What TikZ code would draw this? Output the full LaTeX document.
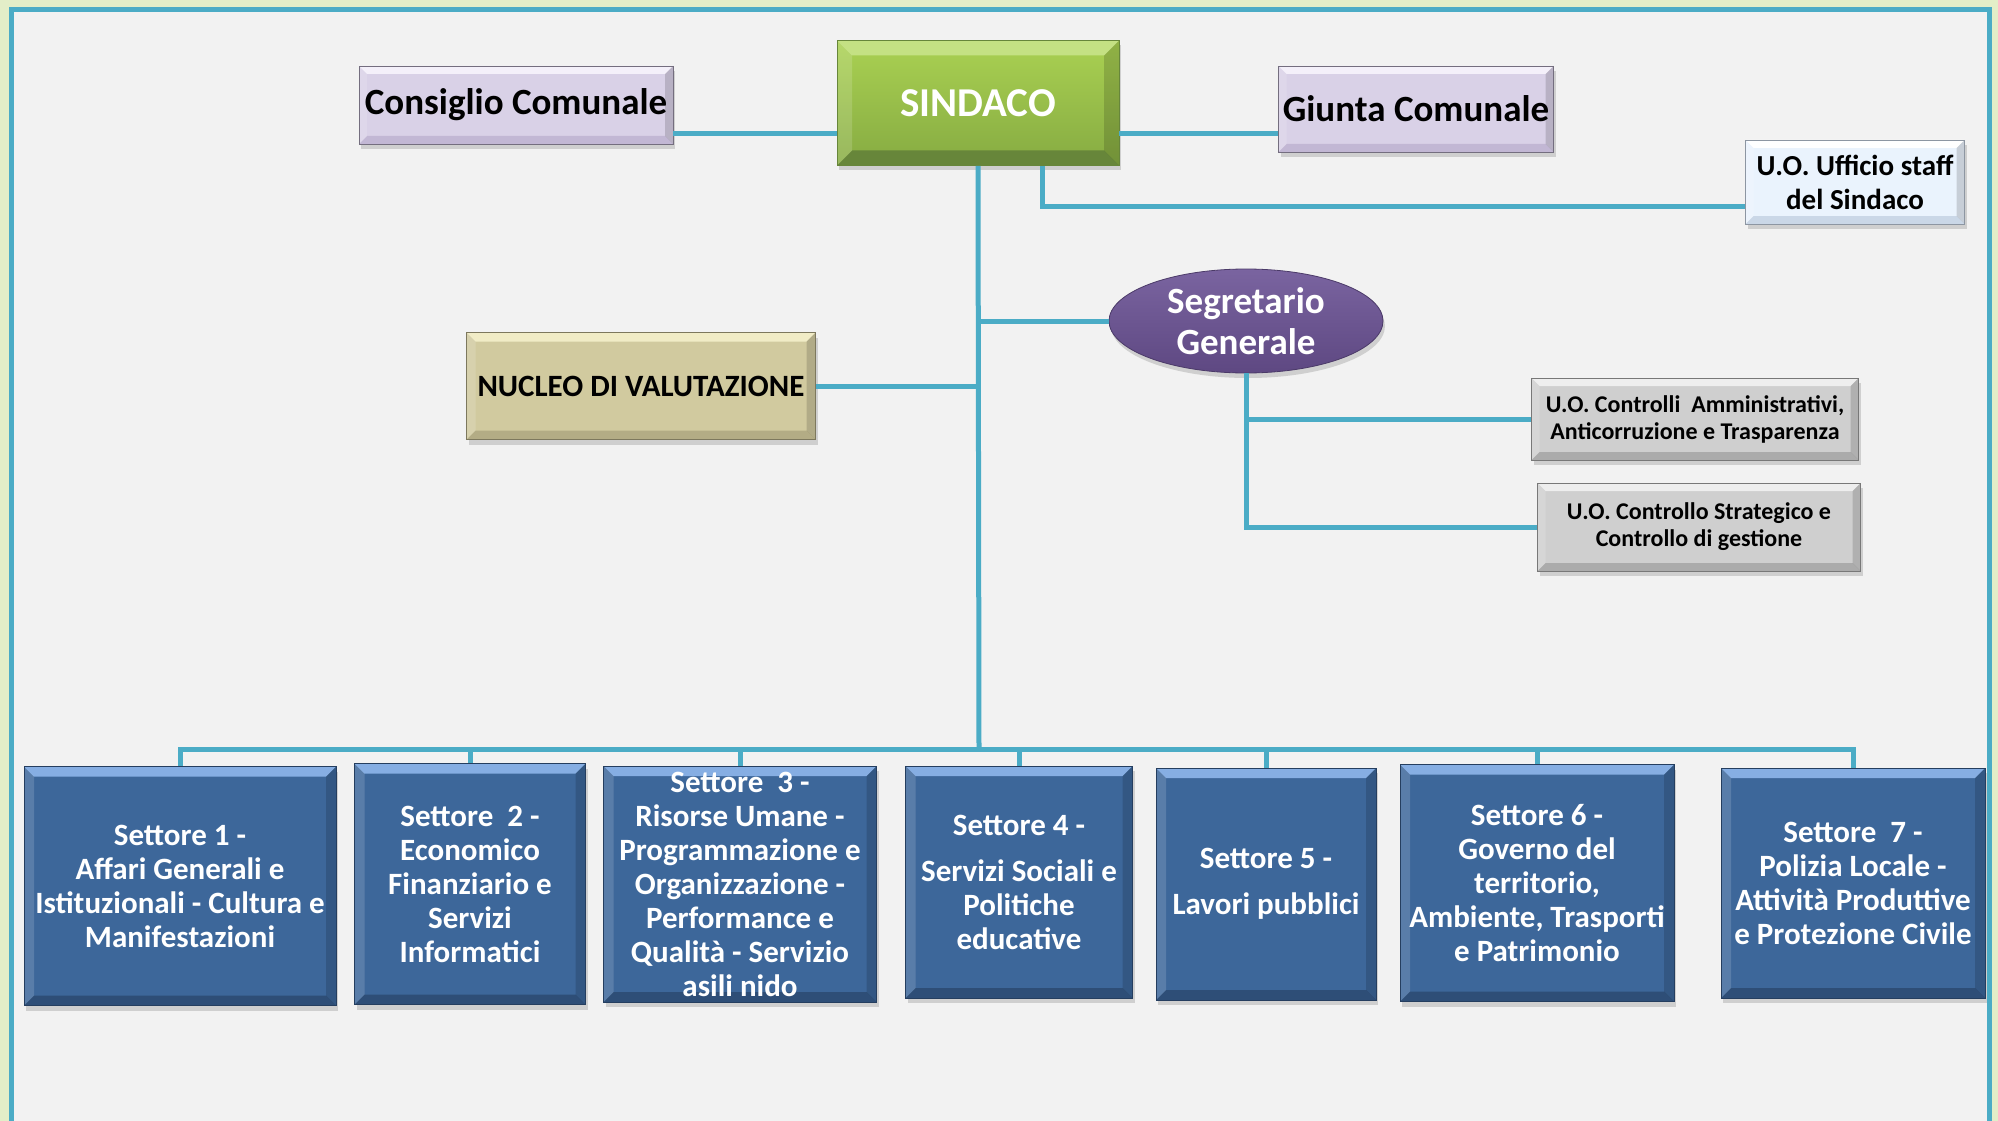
\documentclass[tikz,border=0pt]{standalone}
\usepackage{fontspec}
\setmainfont{Carlito}
\usetikzlibrary{shapes.geometric,shadows}

\definecolor{linkblue}{HTML}{4BACC6}
\definecolor{framegreen}{HTML}{E3EEC8}
\definecolor{paper}{HTML}{F2F2F2}
\definecolor{lilac}{HTML}{D9D1E7}
\definecolor{lilactop}{HTML}{F4F0FA}
\definecolor{lilacbot}{HTML}{C2B7D4}
\definecolor{leaftop}{HTML}{AAD152}
\definecolor{leafbot}{HTML}{86AB42}
\definecolor{leaflight}{HTML}{C4E183}
\definecolor{leafdark}{HTML}{67863A}
\definecolor{ice}{HTML}{EAF3FD}
\definecolor{icebot}{HTML}{CAD7E7}
\definecolor{plumtop}{HTML}{7A64A0}
\definecolor{plumbot}{HTML}{5E4882}
\definecolor{sand}{HTML}{D1CA9F}
\definecolor{sandtop}{HTML}{F1ECC6}
\definecolor{sandbot}{HTML}{B3AC85}
\definecolor{stone}{HTML}{CFCFCF}
\definecolor{stonetop}{HTML}{EEEEEE}
\definecolor{stonebot}{HTML}{ABABAB}
\definecolor{sectblue}{HTML}{3D679A}
\definecolor{secttop}{HTML}{86AEE3}
\definecolor{sectbot}{HTML}{2E4E77}

\tikzset{
  bevel/.style n args={3}{path picture={
    \fill[#1] (path picture bounding box.north west) -- (path picture bounding box.north east)
      -- ++(-#3,-#3) -- ([xshift=#3,yshift=-#3]path picture bounding box.north west) -- cycle;
    \fill[#2] (path picture bounding box.south west) -- (path picture bounding box.south east)
      -- ++(-#3,#3) -- ([xshift=#3,yshift=#3]path picture bounding box.south west) -- cycle;
    \fill[white,opacity=.15] (path picture bounding box.north west) -- ([xshift=#3,yshift=-#3]path picture bounding box.north west)
      -- ([xshift=#3,yshift=#3]path picture bounding box.south west) -- (path picture bounding box.south west) -- cycle;
    \fill[black,opacity=.15] (path picture bounding box.north east) -- ([xshift=-#3,yshift=-#3]path picture bounding box.north east)
      -- ([xshift=-#3,yshift=#3]path picture bounding box.south east) -- (path picture bounding box.south east) -- cycle;
  }},
  link/.style={draw=linkblue, line width=5pt},
  panel/.style={rectangle, inner sep=2pt, align=center, line width=.8pt,
    drop shadow={opacity=.3, shadow xshift=2pt, shadow yshift=-5pt}},
  organbox/.style={panel, fill=lilac, draw=lilacbot!60!black, bevel={lilactop}{lilacbot}{8pt},
    font=\bfseries\fontsize{37}{44}\selectfont},
  mayorbox/.style={panel, top color=leaftop, bottom color=leafbot, draw=leafdark, text=white,
    bevel={leaflight}{leafdark}{15pt}, font=\bfseries\fontsize{41}{48}\selectfont},
  staffbox/.style={panel, fill=ice, draw=icebot!70!black, bevel={white}{icebot}{8pt},
    font=\bfseries\fontsize{29}{34}\selectfont},
  evalbox/.style={panel, fill=sand, draw=sandbot!70!black, bevel={sandtop}{sandbot}{9pt},
    font=\bfseries\fontsize{31}{36}\selectfont},
  unitbox/.style={panel, fill=stone, draw=stonebot!70!black, bevel={stonetop}{stonebot}{8pt},
    font=\bfseries\fontsize{24}{27}\selectfont},
  sectorbox/.style={panel, fill=sectblue, draw=sectbot!80!black, text=white, bevel={secttop}{sectbot}{10pt},
    font=\bfseries\fontsize{31}{34}\selectfont},
  secretary/.style={ellipse, inner sep=0pt, align=center, top color=plumtop, bottom color=plumbot,
    draw=plumbot!80!black, line width=.8pt, text=white, font=\bfseries\fontsize{37}{41}\selectfont,
    drop shadow={opacity=.3, shadow xshift=2pt, shadow yshift=-5pt}},
}

\begin{document}
\begin{tikzpicture}[x=1pt, y=-1pt]
  \useasboundingbox (0,0) rectangle (1998,1121);
  \fill[framegreen] (0,0) rectangle (1998,1121);
  \fill[paper] (11,10) rectangle (1989,1130);
  \draw[link] (11,1130) -- (11,10) -- (1989,10) -- (1989,1130);

  \node[mayorbox, minimum width=282pt, minimum height=125pt] (sindaco) at (978,103) {SINDACO};
  \node[organbox, minimum width=314pt, minimum height=78pt] (consiglio) at (516,105) {Consiglio Comunale};
  \node[organbox, minimum width=275pt, minimum height=86pt] (giunta) at (1416,109) {Giunta Comunale};
  \node[staffbox, minimum width=219pt, minimum height=84pt] (staff) at (1855,182) {U.O. Ufficio staff\\del Sindaco};
  \node[secretary, minimum width=274pt, minimum height=104pt] (segretario) at (1246,321) {Segretario\\Generale};
  \node[evalbox, minimum width=349pt, minimum height=107pt] (nucleo) at (641,386) {NUCLEO DI VALUTAZIONE};
  \node[unitbox, minimum width=327pt, minimum height=82pt] (controlli) at (1695,419) {U.O. Controlli~ Amministrativi,\\Anticorruzione e Trasparenza};
  \node[unitbox, minimum width=323pt, minimum height=88pt] (strategico) at (1699,527) {U.O. Controllo Strategico e\\Controllo di gestione};

  \node[sectorbox, minimum width=312pt, minimum height=239pt] (s1) at (180,886) {Settore 1 -\\Affari Generali e\\Istituzionali - Cultura e\\Manifestazioni};
  \node[sectorbox, minimum width=231pt, minimum height=241pt] (s2) at (470,884) {Settore~~2 -\\Economico\\Finanziario e\\Servizi\\Informatici};
  \node[sectorbox, minimum width=273pt, minimum height=236pt] (s3) at (740,884) {Settore~~3 -\\Risorse Umane -\\Programmazione e\\Organizzazione -\\Performance e\\Qualità - Servizio\\asili nido};
  \node[sectorbox, minimum width=227pt, minimum height=232pt] (s4) at (1019,882) {Settore 4 -\\[12pt]Servizi Sociali e\\Politiche\\educative};
  \node[sectorbox, minimum width=220pt, minimum height=232pt] (s5) at (1266,884) {Settore 5 -\\[12pt]Lavori pubblici};
  \node[sectorbox, minimum width=274pt, minimum height=237pt] (s6) at (1537,883) {Settore 6 -\\Governo del\\territorio,\\Ambiente, Trasporti\\e Patrimonio};
  \node[sectorbox, minimum width=264pt, minimum height=230pt] (s7) at (1853,883) {Settore~~7 -\\Polizia Locale -\\Attività Produttive\\e Protezione Civile};

  \coordinate (bus) at (979,749);
  \begin{scope}[on background layer/.try]
  \draw[link] ([yshift=-29pt]consiglio.east) -- ([yshift=-29pt]consiglio.east -| sindaco.west);
  \draw[link] ([yshift=-25pt]giunta.west) -- ([yshift=-25pt]giunta.west -| sindaco.east);
  \draw[link] ([xshift=64pt]sindaco.south) |- ([yshift=-24pt]staff.west);
  \draw[link] (sindaco.south) -- (bus);
  \draw[link] (segretario.west) -- (segretario.west -| sindaco.south);
  \draw[link] (nucleo.east) -- (nucleo.east -| sindaco.south);
  \draw[link] (segretario.south) |- (controlli.west);
  \draw[link] (segretario.south) |- (strategico.west);
  \foreach \s in {s1,s2,s3,s4,s5,s6,s7}
    \draw[link] (\s.north) |- (bus);
  \end{scope}
\end{tikzpicture}
\end{document}
